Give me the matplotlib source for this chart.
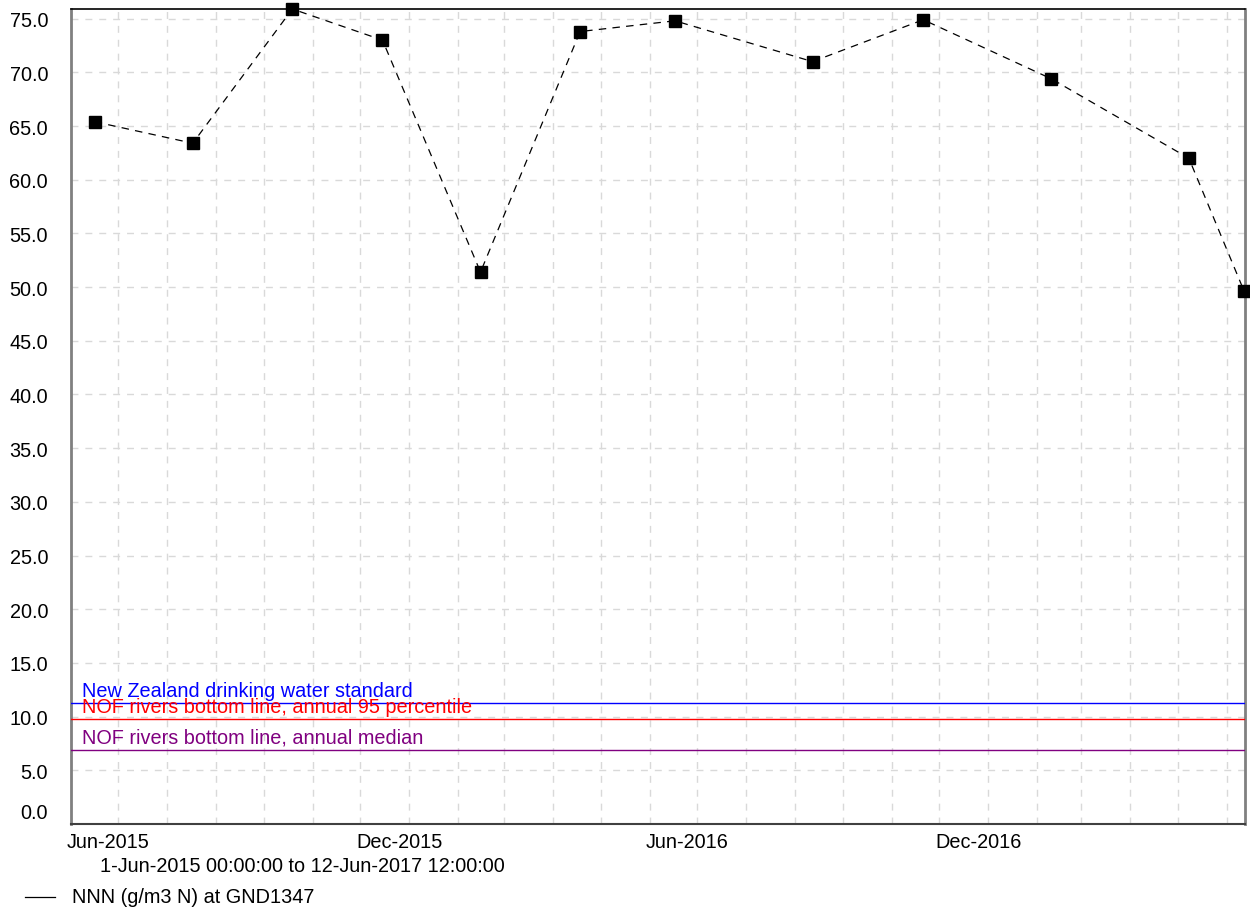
import matplotlib
matplotlib.use("Agg")
import matplotlib.pyplot as plt
import matplotlib.dates as mdates
import matplotlib.transforms as mtransforms
import pandas as pd

plt.rcParams['font.family'] = ['Liberation Sans', 'DejaVu Sans']

# sample dates and NNN values
sample_dates = ["2015-06-16", "2015-08-17", "2015-10-19", "2015-12-15",
                "2016-02-15", "2016-04-18", "2016-06-17", "2016-09-12",
                "2016-11-21", "2017-02-10", "2017-05-08", "2017-06-12"]
nnn_values = [65.4, 63.4, 75.9, 73.0, 51.4, 73.8, 74.8, 71.0, 74.9, 69.4, 62.0, 49.6]

# guideline levels
guide_names = ["New Zealand drinking water standard",
               "NOF rivers bottom line, annual 95 percentile",
               "NOF rivers bottom line, annual median"]
guide_values = [11.3, 9.8, 6.9]
guide_colors = ["#0000ff", "#ff0000", "#800080"]

period_start = "2015-06-01 00:00:00"
period_end = "2017-06-12 12:00:00"
tick_dates = ["2015-06-01", "2015-12-01", "2016-06-01", "2016-12-01"]
tick_labels = ["Jun-2015", "Dec-2015", "Jun-2016", "Dec-2016"]
y_ticks = [0, 5, 10, 15, 20, 25, 30, 35, 40, 45, 50, 55, 60, 65, 70, 75]

FS = 14.3

dates = pd.to_datetime(sample_dates)
x0 = pd.Timestamp(period_start)
x1 = pd.Timestamp(period_end)

fig = plt.figure(figsize=(12.5, 9.12), dpi=100)
ax = fig.add_axes([71 / 1250, 1 - 825 / 912, (1245 - 71) / 1250, (825 - 10) / 912])

ax.plot(dates, nnn_values, color="black", linestyle=(0, (6, 5)), linewidth=0.9,
        marker="s", markersize=8, clip_on=False, zorder=5)

for name, val, col in zip(guide_names, guide_values, guide_colors):
    ax.axhline(val, color=col, linewidth=1.0, zorder=3)
    ax.annotate(name, xy=(0, val), xycoords=("axes fraction", "data"),
                xytext=(11, 3), textcoords="offset pixels",
                color=col, fontsize=FS, ha="left", va="bottom", zorder=4)

ax.set_xlim(x0, x1)
ax.set_ylim(0, max(nnn_values))

# monthly grid, labels every six months
ax.xaxis.set_minor_locator(mdates.MonthLocator())
ax.set_xticks(pd.to_datetime(tick_dates))
ax.set_xticklabels(tick_labels)
ax.set_yticks(y_ticks)
ax.set_yticklabels([f"{v:.1f}" for v in y_ticks])

ax.grid(True, which="both", axis="x", color="#d9d9d9", linestyle=(0, (5, 5)), linewidth=1)
ax.grid(True, which="major", axis="y", color="#d9d9d9", linestyle=(0, (5, 5)), linewidth=1)
ax.set_axisbelow(True)

ax.tick_params(axis="both", which="both", length=0, labelsize=FS)
ax.tick_params(axis="y", pad=16.5)
ax.tick_params(axis="x", pad=6)

fig.canvas.draw()
shift_left = mtransforms.ScaledTranslation(-4 / 100, 0, fig.dpi_scale_trans)
for lbl in ax.get_xticklabels():
    lbl.set_horizontalalignment("left")
    lbl.set_transform(lbl.get_transform() + shift_left)
lift = mtransforms.ScaledTranslation(0, 13 / 100, fig.dpi_scale_trans)
zero_lbl = ax.get_yticklabels()[0]
zero_lbl.set_transform(zero_lbl.get_transform() + lift)

for side in ["left", "right"]:
    ax.spines[side].set_color("#808080")
    ax.spines[side].set_linewidth(2)
ax.spines["top"].set_color("black")
ax.spines["top"].set_linewidth(1.2)
ax.spines["bottom"].set_color("#404040")
ax.spines["bottom"].set_linewidth(1.5)

fig.text(100 / 1250, 1 - 867 / 912,
         f"{x0.day}-{x0:%b-%Y %H:%M:%S} to {x1.day}-{x1:%b-%Y %H:%M:%S}",
         fontsize=FS, ha="left", va="center")
fig.add_artist(plt.Line2D([25 / 1250, 55 / 1250], [1 - 898 / 912, 1 - 898 / 912],
                          color="black", linewidth=0.9))
fig.text(72 / 1250, 1 - 898 / 912, "NNN (g/m3 N) at GND1347",
         fontsize=FS, ha="left", va="center")

fig.savefig("out.png", dpi=100)
